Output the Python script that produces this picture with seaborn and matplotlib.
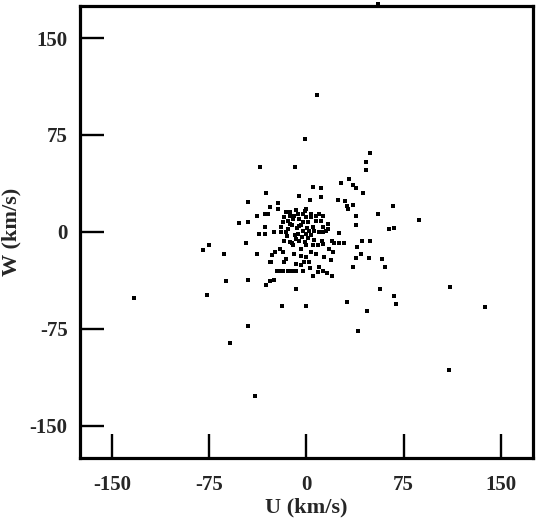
import matplotlib
matplotlib.use("Agg")
import matplotlib.pyplot as plt
import seaborn as sns
import pandas as pd

# Core cluster
core_u = [-16.2, -13.1, -17.0, -18.3, -14.4, -10.5, -12.6, -9.3, -6.7, -2.8, -0.3, 3.6, 3.6, 7.5, 10.0, 12.6,
          11.3, 7.5, 1.0, -2.8, -5.4, -2.8, -6.7, -0.3, 2.3, 3.6, 6.2, 10.0, 12.6, 15.2, 16.4, 12.6,
          -25.2, -19.5, -15.7, -17.0, -13.1, -10.5, -8.0, -5.4, -1.5, -0.3, -4.1, 4.9, 8.7, 12.6, 3.6, 7.5,
          -24.7, -20.8, -18.3, -15.7, -9.3, -4.1, -0.3, 17.7, 20.3, 13.9, 19.0, -27.2, -17.0, -8.0, -4.1,
          -11.0, -7.5, -4.0, -13.0, -6.0, 0.5, 5.0, -9.0, -3.5, 1.5, -15.0, -11.5, -20.0, -14.0, 5.5, -1.0]
core_w = [15.2, 15.2, 11.3, 7.5, 8.7, 10.0, 6.2, 12.6, 13.9, 13.9, 11.3, 11.3, 13.9, 12.6, 13.9, 12.6,
          8.7, 8.7, 7.5, 7.5, 4.9, 1.0, -1.5, -1.5, 1.0, -2.8, 1.0, -0.3, -0.3, 1.0, 6.2, 3.6,
          -0.3, -0.3, -0.3, -6.7, -8.0, -10.5, -5.4, -6.7, -8.0, -10.5, -13.1, -10.5, -10.5, -9.3, -15.7, -17.0,
          -15.7, -13.1, -15.7, -20.8, -17.0, -18.3, -19.5, -13.1, -15.7, -19.5, -22.1, -23.4, -23.4, -24.7, -26.0,
          5.0, 3.0, 5.5, 12.0, 10.0, 3.0, 3.5, -2.5, -4.0, -5.0, -3.0, -8.5, 4.0, 2.0, -6.0, 16.0]

# Outer points
outer_u = [8, -1, -36, -9, 49, 46, 46, 33, 27, 36, 38, 5, 11, 44, 11, 3, 24, 30, -31, -6, -45, -28, -30, -32,
           -38, -45, -52, -32, -22, -22, -8, 0, 32, 31, 36, 55, 67, 38, 87, 38, 64, 68, 25,
           -75, -80, -47, -64, -38, -37, -32, -133, -77, -62, -45, -45, -59, -31, -28, -25, -8, -19, 0,
           -28, -27, -23, -21, -18, -14, -11, -8, -3,
           31, 47, 40, 57, 68, 69, 111, 138, 58, 61, 48, 42, 38, 36, 39, 43, 49, 25, 29,
           3, 10, 13, 16, 20, 9, 5, -40, 110, 20, 21, 2, -2, 12, 17, 55]
outer_w = [106, 72, 50, 50, 61, 54, 48, 41, 38, 36, 34, 35, 34, 30, 27, 25, 25, 24, 30, 28, 23, 19, 14, 14,
           12, 8, 7, 4, 22, 18, 17, 18, 18, 20, 21, 14, 20, 12, 9, 5, 2, 3, -1,
           -10, -14, -9, -17, -17, -2, -2, -51, -49, -38, -37, -73, -86, -41, -38, -37, -44, -57, -57,
           -23, -18, -30, -30, -30, -30, -30, -30, -30,
           -54, -61, -77, -44, -50, -56, -43, -58, -21, -27, -20, -17, -20, -27, -12, -7, -7, -9, -9,
           -28, -27, -30, -32, -34, -31, -34, -127, -107, -7, -9, -23, -23, -7, 2, 176.5]

x_ticks = [-150, -75, 0, 75, 150]
y_ticks = [-150, -75, 0, 75, 150]

df = pd.DataFrame({"U": core_u + outer_u, "W": core_w + outer_w})

sns.set_style("ticks")
plt.rcParams["font.family"] = ["Liberation Serif", "DejaVu Serif"]
plt.rcParams["font.weight"] = "bold"

fig = plt.figure(figsize=(5.41, 5.24), dpi=100)
ax = fig.add_axes([0.148, 0.126, 0.837, 0.863])

sns.scatterplot(data=df, x="U", y="W", ax=ax, marker="s", s=10, color="black",
                edgecolor="black", linewidth=0, clip_on=False, zorder=1)

ax.set_xlim(-175, 175)
ax.set_ylim(-175, 175)
ax.set_xticks(x_ticks)
ax.set_yticks(y_ticks)
ax.set_xticklabels([str(t) for t in x_ticks])
ax.set_yticklabels([str(t) for t in y_ticks])
ax.tick_params(axis="x", which="major", bottom=True, top=False, direction="in", length=17, width=1.7,
               pad=12, labelsize=15, color="black")
ax.tick_params(axis="y", which="major", left=True, right=False, direction="in", length=17, width=1.7,
               pad=9, labelsize=15, color="black")
for lab in ax.get_xticklabels() + ax.get_yticklabels():
    lab.set_fontweight("bold")
for sp in ax.spines.values():
    sp.set_visible(True)
    sp.set_linewidth(2.3)
    sp.set_color("black")
    sp.set_zorder(3)
ax.set_xlabel("U (km/s)", fontsize=16, fontweight="bold", labelpad=2)
ax.set_ylabel("W (km/s)", fontsize=16, fontweight="bold", labelpad=6)

fig.savefig("out.png", dpi=100)
